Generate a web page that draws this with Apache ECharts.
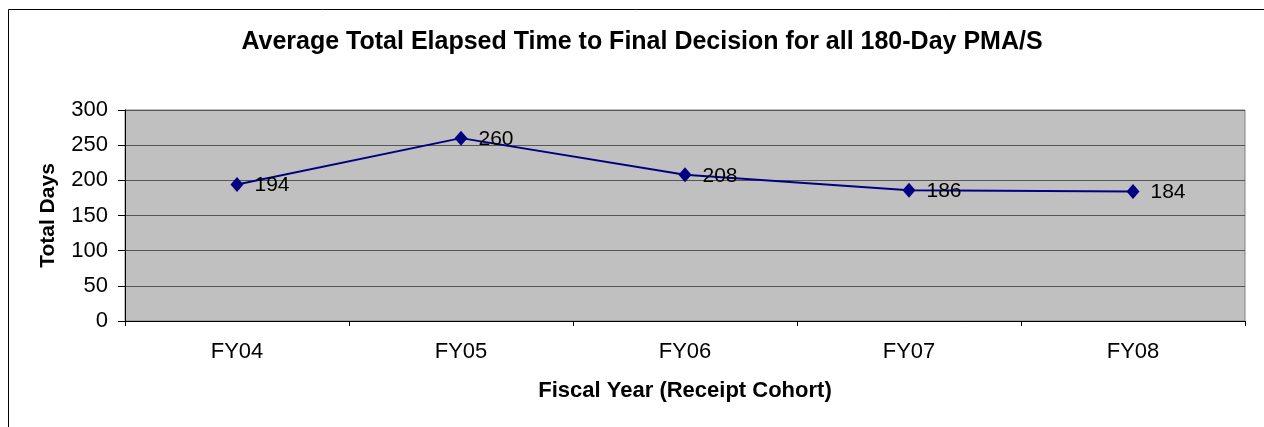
<!DOCTYPE html>
<html>
<head>
<meta charset="utf-8">
<script src="https://cdn.jsdelivr.net/npm/echarts@6/dist/echarts.min.js"></script>
<style>
  html, body { margin: 0; padding: 0; background: #fff; }
  #chart { width: 1264px; height: 427px; }
</style>
</head>
<body>
<div id="chart"></div>
<script>
const categories = ["FY04", "FY05", "FY06", "FY07", "FY08"];
const totalDays = [194, 260, 208, 186, 184];
const yTicks = [0, 50, 100, 150, 200, 250, 300];

const chart = echarts.init(document.getElementById("chart"));
const font = "Liberation Sans, Arial, sans-serif";

chart.setOption({
  animation: false,
  backgroundColor: "#fff",
  textStyle: { fontFamily: font },
  graphic: [
    {
      // outer chart frame, only left/top visible
      type: "rect",
      shape: { x: 8.5, y: 9.5, width: 1400, height: 600 },
      style: { fill: "none", stroke: "#000", lineWidth: 1 },
      silent: true,
    },
  ],
  title: {
    text: "Average Total Elapsed Time to Final Decision for all 180-Day PMA/S",
    left: 637,
    textAlign: "center",
    top: 25,
    textStyle: { fontSize: 25, fontWeight: "bold", color: "#000", fontFamily: font },
  },
  grid: {
    left: 125,
    right: 19,
    top: 110,
    bottom: 106,
    show: true,
    backgroundColor: "#C0C0C0",
    borderColor: "#808080",
    borderWidth: 1,
  },
  xAxis: {
    type: "category",
    data: categories,
    boundaryGap: true,
    name: "Fiscal Year (Receipt Cohort)",
    nameLocation: "middle",
    nameGap: 59,
    nameTextStyle: { fontSize: 22, fontWeight: "bold", color: "#000" },
    axisLine: { lineStyle: { color: "#000", width: 1 } },
    axisTick: { show: true, length: 5, lineStyle: { color: "#000" } },
    axisLabel: { fontSize: 22, color: "#000", margin: 20 },
    splitLine: { show: false },
  },
  yAxis: {
    type: "value",
    min: yTicks[0],
    max: yTicks[yTicks.length - 1],
    interval: 50,
    name: "Total Days",
    nameLocation: "middle",
    nameGap: 66,
    nameRotate: 90,
    nameTextStyle: { fontSize: 21, fontWeight: "bold", color: "#000" },
    axisLine: { show: true, lineStyle: { color: "#000", width: 1 } },
    axisTick: { show: true, length: 7, lineStyle: { color: "#000" } },
    axisLabel: { fontSize: 22, color: "#000", margin: 17 },
    splitLine: { show: true, lineStyle: { color: "#555", width: 1 } },
  },
  series: [
    {
      type: "line",
      data: totalDays,
      symbol: "diamond",
      symbolSize: [13, 15],
      lineStyle: { color: "#000080", width: 2 },
      itemStyle: { color: "#000080" },
      label: {
        show: true,
        position: "right",
        distance: 11,
        offset: [0, 1],
        fontSize: 21,
        color: "#000",
        fontFamily: font,
      },
    },
  ],
});
</script>
</body>
</html>
